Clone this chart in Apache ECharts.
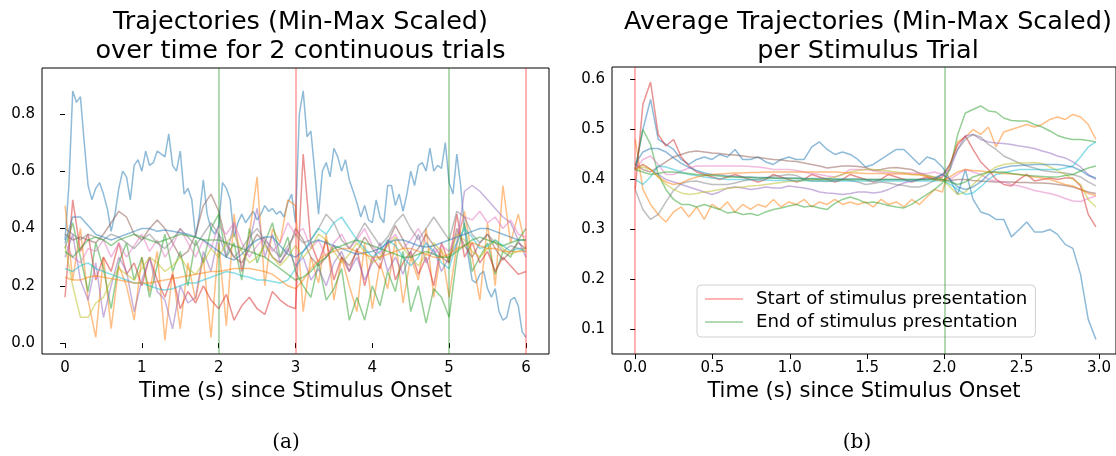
<!DOCTYPE html>
<html>
<head>
<meta charset="utf-8">
<script src="https://cdn.jsdelivr.net/npm/echarts@6/dist/echarts.min.js"></script>
<style>
html, body { margin: 0; padding: 0; background: #fff; }
#chartArea { width: 1116px; height: 456px; }
</style>
</head>
<body>
<div id="chartArea"></div>
<script>
// ---- panel (a): two continuous trials, 0..6 s ----
var trialTicks = [0, 1, 2, 3, 4, 5, 6];
var trialYTicks = [0.0, 0.2, 0.4, 0.6, 0.8];
var trialStarts = [3, 6];
var trialEnds = [2, 5];

// blue trace is sampled every 0.05 s, the others every 0.1 s
var trialBlue = [
    0.36,0.55,0.88,0.84,0.86,0.70,0.55,0.50,0.54,0.56,
    0.52,0.47,0.39,0.45,0.54,0.60,0.58,0.50,0.62,0.64,
    0.60,0.67,0.62,0.63,0.67,0.66,0.65,0.73,0.62,0.60,
    0.67,0.52,0.54,0.50,0.37,0.45,0.57,0.45,0.40,0.38,
    0.41,0.56,0.54,0.50,0.37,0.42,0.45,0.42,0.44,0.46,
    0.43,0.45,0.48,0.46,0.47,0.45,0.46,0.44,0.49,0.52,
    0.42,0.80,0.88,0.72,0.74,0.60,0.45,0.60,0.63,0.58,
    0.68,0.65,0.60,0.64,0.57,0.53,0.49,0.44,0.48,0.43,
    0.42,0.50,0.44,0.42,0.55,0.55,0.48,0.52,0.46,0.52,
    0.60,0.55,0.62,0.63,0.60,0.68,0.60,0.62,0.61,0.70,
    0.56,0.52,0.66,0.55,0.40,0.30,0.22,0.21,0.24,0.25,
    0.19,0.16,0.19,0.11,0.08,0.09,0.15,0.16,0.13,0.04,
    0.02
];
var trialOrange = [
    0.48,0.22,0.40,0.15,0.02,0.30,0.05,0.27,0.20,0.08,
    0.30,0.18,0.32,0.01,0.25,0.05,0.28,0.15,0.30,0.02,
    0.35,0.06,0.45,0.25,0.38,0.58,0.20,0.40,0.35,0.50,
    0.48,0.11,0.30,0.21,0.38,0.15,0.30,0.20,0.11,0.35,
    0.12,0.28,0.19,0.36,0.14,0.30,0.22,0.40,0.16,0.33,
    0.16,0.34,0.46,0.30,0.15,0.42,0.20,0.55,0.35,0.45,
    0.33
];
var trialGreen = [
    0.33,0.42,0.30,0.18,0.35,0.26,0.12,0.28,0.35,0.22,
    0.30,0.16,0.27,0.38,0.25,0.32,0.20,0.36,0.28,0.40,
    0.45,0.30,0.35,0.22,0.40,0.28,0.35,0.42,0.30,0.37,
    0.25,0.20,0.16,0.28,0.15,0.19,0.26,0.08,0.16,0.08,
    0.20,0.13,0.25,0.18,0.32,0.11,0.20,0.07,0.19,0.16,
    0.09,0.30,0.42,0.25,0.30,0.35,0.24,0.32,0.30,0.36,
    0.40
];
var trialRed = [
    0.16,0.50,0.32,0.38,0.22,0.30,0.25,0.35,0.24,0.28,
    0.20,0.30,0.22,0.16,0.24,0.12,0.18,0.14,0.20,0.15,
    0.12,0.17,0.08,0.13,0.16,0.12,0.10,0.18,0.15,0.13,
    0.12,0.66,0.35,0.28,0.36,0.22,0.30,0.25,0.33,0.20,
    0.30,0.26,0.36,0.22,0.28,0.32,0.24,0.30,0.20,0.35,
    0.28,0.45,0.30,0.35,0.28,0.32,0.25,0.30,0.27,0.24,
    0.25
];
var trialPurple = [
    0.30,0.38,0.22,0.15,0.28,0.09,0.20,0.30,0.25,0.11,
    0.22,0.30,0.18,0.15,0.05,0.20,0.14,0.16,0.32,0.25,
    0.38,0.30,0.42,0.25,0.35,0.47,0.30,0.38,0.28,0.33,
    0.27,0.30,0.22,0.26,0.20,0.28,0.32,0.25,0.30,0.22,
    0.28,0.35,0.25,0.30,0.24,0.32,0.38,0.28,0.33,0.25,
    0.30,0.35,0.53,0.55,0.53,0.50,0.47,0.44,0.42,0.36,
    0.30
];
var trialBrown = [
    0.38,0.36,0.37,0.36,0.35,0.38,0.42,0.46,0.44,0.38,
    0.36,0.40,0.43,0.40,0.35,0.30,0.32,0.38,0.48,0.52,
    0.46,0.35,0.30,0.28,0.33,0.38,0.35,0.30,0.28,0.32,
    0.40,0.36,0.30,0.27,0.30,0.34,0.30,0.27,0.32,0.37,
    0.33,0.29,0.35,0.41,0.36,0.30,0.33,0.38,0.34,0.30,
    0.28,0.40,0.34,0.30,0.35,0.38,0.33,0.29,0.32,0.35,
    0.33
];
var trialPink = [
    0.35,0.30,0.28,0.33,0.32,0.36,0.30,0.35,0.30,0.34,
    0.38,0.32,0.36,0.30,0.34,0.40,0.35,0.30,0.36,0.33,
    0.41,0.38,0.42,0.35,0.30,0.34,0.37,0.32,0.35,0.42,
    0.38,0.40,0.33,0.36,0.30,0.35,0.38,0.33,0.36,0.40,
    0.34,0.31,0.35,0.38,0.33,0.36,0.40,0.35,0.31,0.34,
    0.32,0.38,0.44,0.43,0.46,0.42,0.44,0.40,0.43,0.38,
    0.37
];
var trialGray = [
    0.40,0.38,0.36,0.38,0.37,0.36,0.38,0.37,0.35,0.33,
    0.36,0.38,0.35,0.33,0.36,0.40,0.37,0.34,0.38,0.42,
    0.38,0.34,0.30,0.33,0.37,0.40,0.36,0.33,0.30,0.34,
    0.38,0.35,0.36,0.40,0.45,0.42,0.36,0.33,0.37,0.42,
    0.38,0.34,0.37,0.42,0.45,0.40,0.36,0.40,0.44,0.40,
    0.36,0.46,0.44,0.38,0.35,0.38,0.35,0.32,0.34,0.33,
    0.33
];
var trialOlive = [
    0.34,0.20,0.09,0.09,0.14,0.16,0.22,0.26,0.24,0.22,
    0.26,0.30,0.28,0.25,0.27,0.30,0.26,0.24,0.28,0.33,
    0.30,0.35,0.38,0.32,0.28,0.30,0.34,0.30,0.27,0.30,
    0.34,0.30,0.33,0.38,0.36,0.32,0.28,0.31,0.35,0.32,
    0.28,0.30,0.34,0.37,0.33,0.30,0.27,0.31,0.35,0.32,
    0.29,0.38,0.36,0.32,0.30,0.33,0.36,0.33,0.31,0.32,
    0.33
];
var trialCyan = [
    0.26,0.25,0.27,0.28,0.26,0.25,0.24,0.23,0.22,0.21,
    0.21,0.20,0.19,0.185,0.19,0.20,0.21,0.21,0.22,0.23,
    0.24,0.25,0.245,0.235,0.23,0.22,0.22,0.215,0.21,0.22,
    0.26,0.32,0.36,0.40,0.38,0.42,0.44,0.40,0.36,0.33,
    0.30,0.32,0.36,0.34,0.30,0.27,0.30,0.35,0.32,0.28,
    0.26,0.35,0.40,0.37,0.33,0.34,0.36,0.34,0.32,0.33,
    0.32
];
var trialBlue2 = [
    0.35,0.44,0.44,0.41,0.38,0.37,0.36,0.37,0.38,0.39,
    0.40,0.40,0.39,0.395,0.39,0.385,0.38,0.37,0.36,0.34,
    0.32,0.30,0.29,0.31,0.34,0.36,0.37,0.37,0.34,0.31,
    0.30,0.32,0.35,0.36,0.35,0.34,0.33,0.32,0.31,0.315,
    0.32,0.33,0.35,0.36,0.36,0.35,0.34,0.335,0.34,0.35,
    0.36,0.37,0.38,0.39,0.40,0.40,0.39,0.38,0.37,0.36,
    0.36
];
var trialOrange2 = [
    0.23,0.22,0.22,0.23,0.235,0.23,0.225,0.22,0.215,0.21,
    0.21,0.21,0.215,0.22,0.225,0.23,0.235,0.24,0.245,0.25,
    0.25,0.255,0.26,0.26,0.26,0.255,0.25,0.24,0.22,0.20,
    0.19,0.22,0.26,0.29,0.31,0.32,0.33,0.33,0.32,0.31,
    0.30,0.30,0.31,0.32,0.33,0.33,0.32,0.31,0.30,0.30,
    0.31,0.33,0.34,0.35,0.34,0.33,0.33,0.32,0.32,0.32,
    0.32
];
var trialGreen2 = [
    0.32,0.30,0.33,0.36,0.37,0.36,0.34,0.36,0.37,0.38,
    0.37,0.36,0.35,0.36,0.37,0.38,0.375,0.37,0.36,0.36,
    0.36,0.35,0.34,0.33,0.32,0.31,0.30,0.28,0.26,0.24,
    0.22,0.23,0.25,0.28,0.30,0.33,0.34,0.35,0.36,0.35,
    0.34,0.33,0.32,0.31,0.30,0.30,0.31,0.32,0.31,0.30,
    0.30,0.32,0.34,0.36,0.37,0.36,0.35,0.34,0.35,0.36,
    0.36
];

// ---- panel (b): average per stimulus trial, 0..2.98 s ----
var avgTicks = [0, 0.5, 1.0, 1.5, 2.0, 2.5, 3.0];
var avgYTicks = [0.1, 0.2, 0.3, 0.4, 0.5, 0.6];
var avgStarts = [0];
var avgEnds = [2];

var avgBlue = [
    0.42,0.50,0.56,0.48,0.47,0.46,0.44,0.43,0.44,0.445,
    0.44,0.45,0.445,0.46,0.44,0.44,0.445,0.435,0.43,0.44,
    0.445,0.44,0.44,0.465,0.475,0.46,0.45,0.455,0.45,0.44,
    0.425,0.43,0.44,0.45,0.46,0.46,0.445,0.43,0.445,0.44,
    0.425,0.40,0.37,0.42,0.36,0.335,0.33,0.32,0.32,0.285,
    0.30,0.315,0.295,0.295,0.30,0.29,0.27,0.262,0.21,0.12,
    0.08
];
var avgOrange = [
    0.48,0.38,0.35,0.33,0.315,0.335,0.345,0.325,0.345,0.32,0.35,
    0.34,0.355,0.335,0.35,0.34,0.35,0.345,0.36,0.345,0.355,
    0.35,0.36,0.345,0.355,0.35,0.36,0.35,0.355,0.35,0.355,
    0.345,0.36,0.35,0.355,0.345,0.36,0.35,0.365,0.38,0.375,
    0.43,0.475,0.485,0.50,0.49,0.505,0.465,0.495,0.50,0.505,
    0.51,0.505,0.51,0.52,0.525,0.52,0.53,0.525,0.51,0.48
];
var avgGreen = [
    0.42,0.50,0.47,0.41,0.38,0.36,0.35,0.35,0.345,0.35,0.345,
    0.34,0.333,0.335,0.33,0.332,0.328,0.335,0.34,0.343,0.347,
    0.35,0.345,0.347,0.343,0.34,0.352,0.36,0.365,0.36,0.353,
    0.355,0.352,0.348,0.345,0.343,0.35,0.36,0.37,0.38,0.393,
    0.42,0.49,0.533,0.54,0.547,0.537,0.535,0.523,0.518,0.517,
    0.517,0.51,0.505,0.497,0.488,0.483,0.48,0.48,0.478,0.475
];
var avgRed = [
    0.38,0.55,0.595,0.49,0.467,0.48,0.445,0.427,0.415,0.41,0.405,
    0.40,0.405,0.41,0.405,0.40,0.395,0.40,0.41,0.405,0.40,
    0.395,0.40,0.41,0.405,0.40,0.395,0.40,0.41,0.405,0.40,
    0.395,0.40,0.41,0.405,0.40,0.395,0.40,0.405,0.40,0.405,
    0.43,0.47,0.487,0.46,0.435,0.42,0.40,0.39,0.387,0.40,
    0.41,0.397,0.40,0.403,0.40,0.403,0.403,0.387,0.33,0.305
];
var avgPurple = [
    0.42,0.43,0.42,0.41,0.40,0.395,0.39,0.385,0.38,0.375,0.37,
    0.375,0.383,0.385,0.383,0.38,0.382,0.385,0.383,0.383,0.387,
    0.385,0.383,0.38,0.375,0.373,0.372,0.37,0.372,0.375,0.375,
    0.373,0.375,0.38,0.387,0.393,0.397,0.40,0.402,0.403,0.41,
    0.42,0.46,0.487,0.49,0.48,0.475,0.473,0.472,0.47,0.467,
    0.465,0.462,0.457,0.453,0.447,0.443,0.435,0.425,0.41,0.40
];
var avgBrown = [
    0.43,0.42,0.415,0.425,0.435,0.445,0.45,0.455,0.457,0.455,0.453,
    0.452,0.45,0.449,0.447,0.445,0.444,0.442,0.44,0.439,0.437,
    0.436,0.433,0.43,0.427,0.423,0.425,0.427,0.427,0.426,0.424,
    0.418,0.42,0.423,0.424,0.422,0.42,0.413,0.408,0.404,0.40,
    0.398,0.40,0.40,0.398,0.397,0.396,0.395,0.395,0.395,0.394,
    0.394,0.393,0.393,0.392,0.39,0.388,0.385,0.38,0.375,0.372
];
var avgPink = [
    0.42,0.44,0.447,0.43,0.41,0.41,0.417,0.423,0.427,0.427,
    0.427,0.427,0.427,0.427,0.427,0.426,0.425,0.423,0.42,0.42,
    0.42,0.418,0.415,0.412,0.41,0.407,0.405,0.41,0.42,0.42,
    0.42,0.418,0.415,0.414,0.413,0.413,0.413,0.412,0.412,0.415,
    0.41,0.40,0.41,0.42,0.415,0.41,0.40,0.397,0.395,0.39,
    0.387,0.383,0.378,0.375,0.372,0.368,0.362,0.357,0.356,0.362,
    0.367
];
var avgGray = [
    0.38,0.34,0.32,0.33,0.355,0.378,0.392,0.396,0.397,0.393,0.39,
    0.39,0.39,0.393,0.397,0.40,0.40,0.403,0.407,0.408,0.41,
    0.408,0.40,0.397,0.397,0.396,0.398,0.40,0.398,0.395,0.39,
    0.392,0.395,0.393,0.39,0.388,0.385,0.385,0.39,0.398,0.41,
    0.43,0.46,0.48,0.49,0.485,0.47,0.46,0.447,0.44,0.433,
    0.427,0.423,0.418,0.416,0.414,0.413,0.41,0.405,0.395,0.387
];
var avgOlive = [
    0.42,0.425,0.42,0.405,0.39,0.38,0.373,0.37,0.372,0.375,0.377,
    0.38,0.382,0.384,0.385,0.387,0.388,0.39,0.392,0.394,0.396,
    0.397,0.398,0.40,0.40,0.402,0.405,0.41,0.415,0.418,0.42,
    0.42,0.418,0.417,0.415,0.413,0.41,0.409,0.408,0.405,0.40,
    0.385,0.37,0.375,0.39,0.405,0.415,0.425,0.43,0.432,0.433,
    0.433,0.434,0.432,0.425,0.418,0.41,0.40,0.39,0.36,0.345
];
var avgCyan = [
    0.40,0.39,0.405,0.427,0.425,0.42,0.415,0.41,0.408,0.405,0.403,
    0.402,0.40,0.40,0.40,0.40,0.399,0.399,0.398,0.398,0.398,
    0.398,0.398,0.397,0.397,0.397,0.397,0.397,0.397,0.397,0.397,
    0.397,0.397,0.397,0.397,0.397,0.397,0.397,0.397,0.397,0.398,
    0.39,0.38,0.37,0.373,0.385,0.40,0.41,0.413,0.417,0.42,
    0.42,0.42,0.42,0.42,0.42,0.423,0.427,0.445,0.465,0.475
];
var avgBlue2 = [
    0.43,0.455,0.462,0.462,0.455,0.443,0.432,0.424,0.418,0.413,0.41,
    0.409,0.407,0.406,0.405,0.405,0.404,0.404,0.403,0.403,0.403,
    0.403,0.402,0.402,0.402,0.402,0.401,0.401,0.401,0.401,0.40,
    0.40,0.40,0.40,0.40,0.40,0.40,0.40,0.40,0.402,0.41,
    0.40,0.385,0.38,0.385,0.395,0.41,0.42,0.424,0.427,0.428,
    0.429,0.43,0.43,0.43,0.43,0.428,0.425,0.418,0.408,0.403
];
var avgOrange2 = [
    0.42,0.43,0.42,0.405,0.395,0.39,0.393,0.40,0.405,0.408,0.41,
    0.411,0.412,0.413,0.413,0.414,0.414,0.415,0.415,0.415,0.415,
    0.415,0.415,0.415,0.415,0.415,0.415,0.414,0.413,0.413,0.412,
    0.412,0.412,0.411,0.411,0.411,0.41,0.41,0.405,0.40,0.397,
    0.405,0.415,0.42,0.418,0.417,0.415,0.414,0.412,0.411,0.41,
    0.408,0.405,0.403,0.40,0.395,0.39,0.387,0.38,0.372,0.368
];
var avgGreen2 = [
    0.42,0.415,0.41,0.412,0.415,0.415,0.413,0.412,0.41,0.409,0.408,
    0.407,0.405,0.405,0.404,0.404,0.403,0.403,0.403,0.402,0.402,
    0.402,0.401,0.401,0.40,0.40,0.40,0.40,0.40,0.40,0.40,
    0.40,0.40,0.40,0.40,0.40,0.40,0.40,0.40,0.40,0.40,
    0.395,0.39,0.395,0.405,0.41,0.415,0.415,0.415,0.412,0.41,
    0.408,0.407,0.406,0.405,0.405,0.408,0.41,0.417,0.423,0.427
];

var palette = ['#1f77b4', '#ff7f0e', '#2ca02c', '#d62728', '#9467bd',
               '#8c564b', '#e377c2', '#7f7f7f', '#bcbd22', '#17becf'];
var startName = 'Start of stimulus presentation';
var endName = 'End of stimulus presentation';
var startColor = 'rgba(255,0,0,0.4)';
var endColor = 'rgba(0,128,0,0.4)';
var font = 'DejaVu Sans';

// sample times (x positions) for each recording
function steps(count, last) {
    var t = [];
    for (var i = 0; i < count; i++) t.push(last * i / (count - 1));
    return t;
}
var fineTimes = steps(trialBlue.length, 6);
var trialTimes = steps(trialOrange.length, 6);
var avgTimes = steps(avgBlue.length, 2.98);

function pairs(times, values) {
    var out = [];
    for (var i = 0; i < values.length && i < times.length; i++) out.push([times[i], values[i]]);
    return out;
}

function trace(values, times, k, idx) {
    return {
        type: 'line',
        xAxisIndex: idx,
        yAxisIndex: idx,
        data: pairs(times, values),
        showSymbol: false,
        symbol: 'none',
        silent: true,
        lineStyle: { color: palette[k % 10], width: 1.5, opacity: 0.5 },
        z: 2
    };
}

function vlines(name, color, xs, idx) {
    return {
        name: name,
        type: 'line',
        xAxisIndex: idx,
        yAxisIndex: idx,
        data: [],
        symbol: 'none',
        itemStyle: { color: color },
        lineStyle: { color: color },
        markLine: {
            silent: true,
            symbol: ['none', 'none'],
            label: { show: false },
            lineStyle: { color: color, width: 1.5, type: 'solid' },
            data: xs.map(function(x) { return { xAxis: x }; })
        },
        z: 3
    };
}

function xAxisFor(idx, min, max, ticks, fmt) {
    return {
        type: 'value', gridIndex: idx, min: min, max: max,
        name: 'Time (s) since Stimulus Onset',
        nameLocation: 'middle', nameGap: 20,
        nameTextStyle: { fontSize: 21, color: '#000', fontFamily: font },
        axisLine: { show: false },
        axisTick: { show: true, length: 5, customValues: ticks, lineStyle: { color: '#000' } },
        axisLabel: { customValues: ticks, fontSize: 15, color: '#000', fontFamily: font, margin: 7,
                     formatter: fmt },
        splitLine: { show: false }
    };
}

function yAxisFor(idx, min, max, ticks) {
    return {
        type: 'value', gridIndex: idx, min: min, max: max,
        axisLine: { show: false },
        axisTick: { show: true, length: 5, customValues: ticks, lineStyle: { color: '#000' } },
        axisLabel: { customValues: ticks, fontSize: 15, color: '#000', fontFamily: font, margin: 7,
                     formatter: function(v) { return v.toFixed(1); } },
        splitLine: { show: false }
    };
}

var leftLines = [trialBlue, trialOrange, trialGreen, trialRed, trialPurple, trialBrown,
                 trialPink, trialGray, trialOlive, trialCyan, trialBlue2, trialOrange2, trialGreen2];
var rightLines = [avgBlue, avgOrange, avgGreen, avgRed, avgPurple, avgBrown,
                  avgPink, avgGray, avgOlive, avgCyan, avgBlue2, avgOrange2, avgGreen2];

var series = [];
leftLines.forEach(function(vals, k) {
    series.push(trace(vals, k === 0 ? fineTimes : trialTimes, k, 0));
});
series.push(vlines(endName, endColor, trialEnds, 0));
series.push(vlines(startName, startColor, trialStarts, 0));
rightLines.forEach(function(vals, k) {
    series.push(trace(vals, avgTimes, k, 1));
});
series.push(vlines(startName, startColor, avgStarts, 1));
series.push(vlines(endName, endColor, avgEnds, 1));

var titleStyle = { fontSize: 25.5, fontWeight: 'normal', color: '#000', fontFamily: font, lineHeight: 29 };
var captionStyle = { fontSize: 20, fontWeight: 'normal', color: '#000', fontFamily: 'DejaVu Serif' };

var myChart = echarts.init(document.getElementById('chartArea'));
myChart.setOption({
    animation: false,
    backgroundColor: '#fff',
    title: [
        { text: 'Trajectories (Min-Max Scaled)\nover time for 2 continuous trials',
          left: 295.5, top: 3, textAlign: 'center', textStyle: titleStyle },
        { text: 'Average Trajectories (Min-Max Scaled)\nper Stimulus Trial',
          left: 863, top: 3, textAlign: 'center', textStyle: titleStyle },
        { text: '(a)', left: 281, top: 428, textAlign: 'center', textStyle: captionStyle },
        { text: '(b)', left: 852, top: 428, textAlign: 'center', textStyle: captionStyle }
    ],
    legend: {
        data: [startName, endName],
        orient: 'vertical',
        left: 697, top: 285,
        icon: 'rect', itemWidth: 38, itemHeight: 1.5, itemGap: 5,
        padding: [5, 8, 6, 8],
        borderColor: '#d0d0d0', borderWidth: 1, borderRadius: 4,
        backgroundColor: 'rgba(255,255,255,0.85)',
        selectedMode: false,
        textStyle: { fontSize: 18.2, color: '#000', fontFamily: font, padding: [0, 0, 0, 8] }
    },
    grid: [
        { left: 42, top: 68, width: 507, height: 286, show: true, borderColor: '#000', borderWidth: 1,
          backgroundColor: 'transparent' },
        { left: 612, top: 67, width: 504, height: 287, show: true, borderColor: '#000', borderWidth: 1,
          backgroundColor: 'transparent' }
    ],
    xAxis: [
        xAxisFor(0, -0.3, 6.3, trialTicks, function(v) { return String(Math.round(v)); }),
        xAxisFor(1, -0.15, 3.11, avgTicks, function(v) { return v.toFixed(1); })
    ],
    yAxis: [
        yAxisFor(0, -0.038, 0.96, trialYTicks),
        yAxisFor(1, 0.0507, 0.625, avgYTicks)
    ],
    series: series
});
</script>
</body>
</html>
